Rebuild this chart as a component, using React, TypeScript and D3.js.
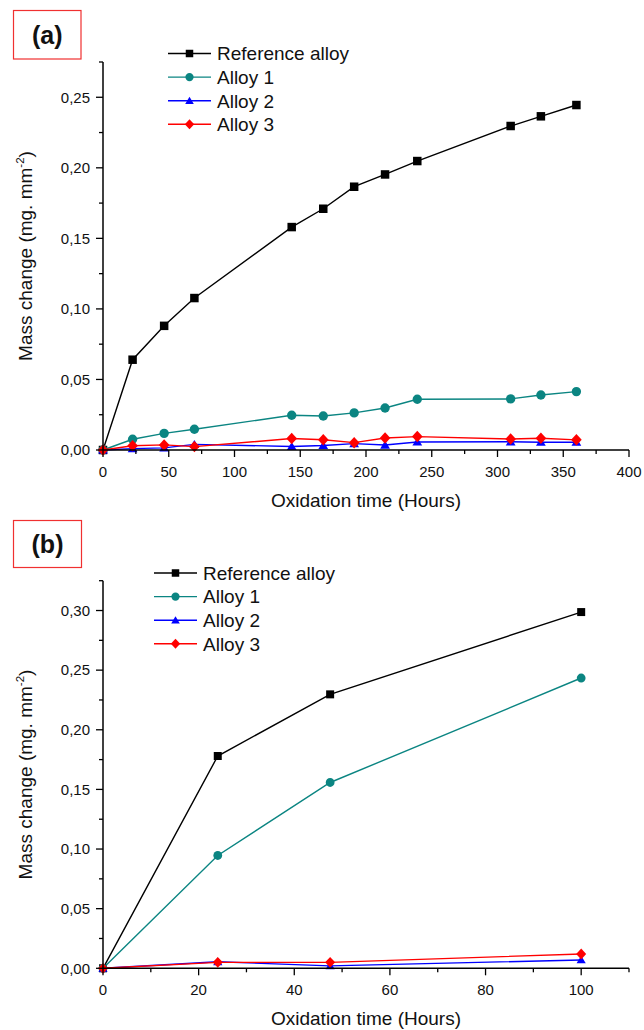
import React from "react";
import * as d3 from "d3";

// ---------- Data (panel a) ----------
const hoursA = [0, 22.5, 46.5, 69.5, 143.5, 167.5, 191, 214.5, 239, 310, 333, 360];
const refA = [0, 0.064, 0.088, 0.1077, 0.158, 0.171, 0.1866, 0.1953, 0.2048, 0.2296, 0.2365, 0.2445];
const alloy1A = [0, 0.0076, 0.0118, 0.0147, 0.0246, 0.0241, 0.0263, 0.0298, 0.036, 0.0362, 0.039, 0.0414];
const alloy2A = [0, 0.001, 0.0015, 0.004, 0.0025, 0.0032, 0.0045, 0.0035, 0.0057, 0.0058, 0.0055, 0.0055];
const alloy3A = [0, 0.003, 0.0036, 0.0024, 0.0081, 0.0073, 0.0052, 0.0085, 0.0095, 0.0078, 0.0083, 0.0072];

// ---------- Data (panel b) ----------
const hoursB = [0, 24, 47.5, 100];
const refB = [0, 0.178, 0.2297, 0.2987];
const alloy1B = [0, 0.0946, 0.1558, 0.2434];
const alloy2B = [0, 0.0055, 0.002, 0.007];
const alloy3B = [0, 0.005, 0.005, 0.012];

// ---------- Tick labels ----------
const xTicksA = [0, 50, 100, 150, 200, 250, 300, 350, 400];
const yTicksA = [0, 0.05, 0.1, 0.15, 0.2, 0.25];
const xTicksB = [0, 20, 40, 60, 80, 100];
const yTicksB = [0, 0.05, 0.1, 0.15, 0.2, 0.25, 0.3];

const seriesNames = ["Reference alloy", "Alloy 1", "Alloy 2", "Alloy 3"];
const seriesColors = ["#000000", "#0b8582", "#0000ff", "#ff0000"];
const seriesMarkers = ["square", "circle", "triangle", "diamond"];

const FONT = "Arial, 'Liberation Sans', Helvetica, sans-serif";

function markerPath(type: string, cx: number, cy: number, s: number): string {
  const h = s / 2;
  if (type === "square") {
    return `M${cx - h},${cy - h}h${s}v${s}h${-s}Z`;
  }
  if (type === "circle") {
    const r = h * 1.1;
    return `M${cx - r},${cy}a${r},${r} 0 1,0 ${2 * r},0a${r},${r} 0 1,0 ${-2 * r},0Z`;
  }
  if (type === "triangle") {
    const w = h * 1.15;
    return `M${cx},${cy - h * 1.05}L${cx + w},${cy + h * 0.85}L${cx - w},${cy + h * 0.85}Z`;
  }
  // diamond
  const w = h * 1.25;
  const hh = h * 1.35;
  return `M${cx},${cy - hh}L${cx + w},${cy}L${cx},${cy + hh}L${cx - w},${cy}Z`;
}

const fmt = (v: number) => d3.format(".2f")(v).replace(".", ",");

type PanelProps = {
  top: number;
  bottom: number;
  xMax: number;
  yMax: number;
  xTicks: number[];
  xMinorStep: number;
  yTicks: number[];
  yMinorStep: number;
  hours: number[];
  series: number[][];
  label: string;
  labelBox: [number, number, number, number];
  legendX: number;
  legendY: number;
  markerSize: number;
};

function Panel(p: PanelProps) {
  const left = 103;
  const right = 629;
  const x = d3.scaleLinear().domain([0, p.xMax]).range([left, right]);
  const y = d3.scaleLinear().domain([0, p.yMax]).range([p.bottom, p.top]);

  const xMinor = d3.range(0, p.xMax + 1e-9, p.xMinorStep).filter((v) => !p.xTicks.some((t) => Math.abs(t - v) < 1e-9));
  const yMinor = d3.range(0, p.yMax + 1e-9, p.yMinorStep).filter((v) => !p.yTicks.some((t) => Math.abs(t - v) < 1e-9));

  const line = d3
    .line<number>()
    .x((_, i) => x(p.hours[i]))
    .y((d) => y(d));

  const [bx, by, bw, bh] = p.labelBox;
  const midY = (p.top + p.bottom) / 2;

  return (
    <g>
      <rect x={bx} y={by} width={bw} height={bh} fill="none" stroke="#f03030" strokeWidth={1.2} />
      <text
        x={bx + bw / 2}
        y={by + bh / 2 + 9}
        textAnchor="middle"
        fontFamily={FONT}
        fontWeight="bold"
        fontSize={25}
        fill="#111"
      >
        {p.label}
      </text>

      {p.series.map((vals, si) => (
        <g key={si}>
          <path d={line(vals) || ""} fill="none" stroke={seriesColors[si]} strokeWidth={1.4} />
          {vals.map((v, i) => (
            <path key={i} d={markerPath(seriesMarkers[si], x(p.hours[i]), y(v), p.markerSize)} fill={seriesColors[si]} />
          ))}
        </g>
      ))}

      <line x1={left} x2={left} y1={p.top} y2={p.bottom} stroke="#000" strokeWidth={1.5} />
      <line x1={left} x2={right} y1={p.bottom} y2={p.bottom} stroke="#000" strokeWidth={1.5} />
      {p.yTicks.map((t) => (
        <g key={"y" + t}>
          <line x1={left - 7} x2={left} y1={y(t)} y2={y(t)} stroke="#000" strokeWidth={1.3} />
          <text x={left - 13} y={y(t) + 5.3} textAnchor="end" fontFamily={FONT} fontSize={15} fill="#111">
            {fmt(t)}
          </text>
        </g>
      ))}
      {yMinor.map((t) => (
        <line key={"ym" + t} x1={left - 4} x2={left} y1={y(t)} y2={y(t)} stroke="#000" strokeWidth={1.3} />
      ))}
      {p.xTicks.map((t) => (
        <g key={"x" + t}>
          <line x1={x(t)} x2={x(t)} y1={p.bottom} y2={p.bottom + 7} stroke="#000" strokeWidth={1.3} />
          <text x={x(t)} y={p.bottom + 26.5} textAnchor="middle" fontFamily={FONT} fontSize={15} fill="#111">
            {t}
          </text>
        </g>
      ))}
      {xMinor.map((t) => (
        <line key={"xm" + t} x1={x(t)} x2={x(t)} y1={p.bottom} y2={p.bottom + 4} stroke="#000" strokeWidth={1.3} />
      ))}

      <text
        x={(left + right) / 2}
        y={p.bottom + 57}
        textAnchor="middle"
        fontFamily={FONT}
        fontSize={19}
        fill="#111"
      >
        Oxidation time (Hours)
      </text>
      <text
        transform={`translate(32,${midY}) rotate(-90)`}
        textAnchor="middle"
        fontFamily={FONT}
        fontSize={19}
        fill="#111"
      >
        Mass change (mg. mm
        <tspan fontSize={11.5} dy={-8}>
          -2
        </tspan>
        <tspan dy={8}>)</tspan>
      </text>

      {seriesNames.map((name, i) => {
        const ly = p.legendY + i * 23.6;
        return (
          <g key={name}>
            <line x1={p.legendX} x2={p.legendX + 43} y1={ly} y2={ly} stroke={seriesColors[i]} strokeWidth={1.4} />
            <path d={markerPath(seriesMarkers[i], p.legendX + 21.5, ly, 7.5)} fill={seriesColors[i]} />
            <text x={p.legendX + 49} y={ly + 6.8} fontFamily={FONT} fontSize={19} fill="#111">
              {name}
            </text>
          </g>
        );
      })}
    </g>
  );
}

export default function App() {
  return (
    <svg
      width={644}
      height={1030}
      viewBox="0 0 644 1030"
      style={{ position: "absolute", left: 0, top: 0, background: "#fff" }}
    >
      <rect width={644} height={1030} fill="#fff" />
      <Panel
        top={62}
        bottom={450}
        xMax={400}
        yMax={0.275}
        xTicks={xTicksA}
        xMinorStep={25}
        yTicks={yTicksA}
        yMinorStep={0.025}
        hours={hoursA}
        series={[refA, alloy1A, alloy2A, alloy3A]}
        label="(a)"
        labelBox={[13.5, 10.5, 67.5, 48.5]}
        legendX={168}
        legendY={53.5}
        markerSize={8.5}
      />
      <Panel
        top={580.7}
        bottom={968.3}
        xMax={110}
        yMax={0.325}
        xTicks={xTicksB}
        xMinorStep={10}
        yTicks={yTicksB}
        yMinorStep={0.025}
        hours={hoursB}
        series={[refB, alloy1B, alloy2B, alloy3B]}
        label="(b)"
        labelBox={[13.5, 520.5, 68, 47]}
        legendX={154}
        legendY={573}
        markerSize={8}
      />
    </svg>
  );
}
